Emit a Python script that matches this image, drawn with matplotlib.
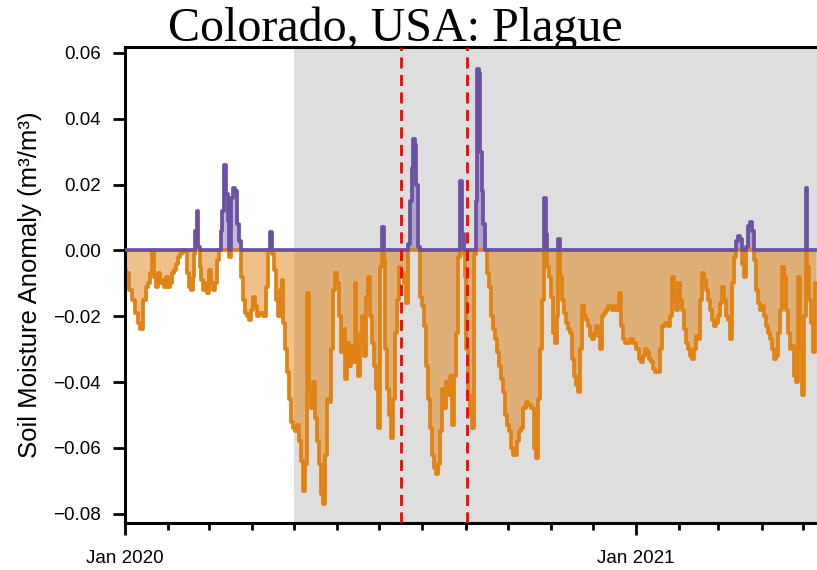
import matplotlib
matplotlib.use("Agg")
import matplotlib.pyplot as plt
import matplotlib.dates as mdates
import numpy as np
import pandas as pd

# ---------------- data ----------------
start_date = "2020-01-01"
day_offsets = [
    0, 2, 4, 6, 8, 10, 12, 14, 16, 17, 19, 20, 22, 23, 24, 26, 27, 29, 30, 32,
    33, 34, 36, 37, 39, 40, 42, 44, 45, 47, 48, 49, 50, 51, 52, 53, 54, 55, 57, 58,
    60, 61, 62, 64, 65, 67, 68, 69, 70, 72, 73, 74, 75, 77, 78, 80, 81, 82, 84, 85,
    87, 88, 90, 91, 92, 94, 95, 97, 100, 102, 103, 105, 106, 107, 109, 110, 112, 113, 114, 115,
    117, 118, 120, 121, 122, 124, 125, 127, 128, 130, 131, 133, 134, 135, 137, 138, 140, 141, 143, 144,
    145, 147, 148, 150, 151, 153, 154, 155, 157, 158, 160, 161, 163, 164, 165, 166, 168, 169, 171, 172,
    173, 175, 176, 178, 179, 181, 182, 183, 185, 186, 187, 188, 190, 191, 193, 194, 196, 197, 198, 201,
    202, 203, 205, 206, 207, 208, 209, 211, 212, 214, 215, 216, 218, 219, 221, 222, 224, 225, 226, 228,
    229, 231, 232, 234, 235, 236, 238, 239, 241, 242, 243, 244, 245, 246, 248, 249, 251, 252, 253, 254,
    255, 256, 257, 259, 260, 261, 263, 264, 266, 267, 269, 270, 272, 273, 274, 276, 277, 279, 280, 282,
    283, 284, 286, 288, 290, 292, 294, 295, 297, 298, 299, 301, 302, 303, 304, 306, 307, 309, 310, 311,
    312, 314, 315, 317, 318, 320, 321, 322, 324, 325, 327, 328, 330, 331, 332, 334, 335, 337, 338, 340,
    341, 342, 344, 345, 347, 350, 352, 353, 355, 356, 357, 359, 361, 363, 365, 367, 369, 370, 372, 373,
    375, 376, 378, 379, 380, 383, 384, 385, 388, 390, 391, 393, 394, 395, 397, 398, 400, 401, 403, 404,
    405, 407, 408, 410, 411, 413, 414, 416, 417, 418, 420, 421, 423, 424, 426, 427, 428, 430, 431, 433,
    434, 436, 437, 438, 440, 441, 443, 444, 446, 447, 448, 450, 451, 453, 454, 456, 457, 458, 460, 461,
    463, 464, 466, 467, 469, 470, 471, 473, 474, 476, 477, 479, 480, 481, 483, 484, 486, 487, 488, 489,
    491, 492, 494, 495,
]
anomaly = [
    -0.0060, -0.0070, -0.0120, -0.0150, -0.0190, -0.0220, -0.0240, -0.0150, -0.0110, -0.0100,
    -0.0070, -0.0005, -0.0080, -0.0110, -0.0070, -0.0100, -0.0090, -0.0110, -0.0080, -0.0110,
    -0.0100, -0.0070, -0.0060, -0.0040, -0.0020, -0.0010, 0.0002, -0.0005, -0.0070, -0.0110,
    -0.0120, -0.0080, -0.0010, 0.0060, 0.0120, 0.0010, -0.0050, -0.0090, -0.0120, -0.0100,
    -0.0130, -0.0060, -0.0100, -0.0120, -0.0100, -0.0030, 0.0000, 0.0060, 0.0120, 0.0260,
    0.0170, 0.0090, -0.0020, 0.0160, 0.0190, 0.0180, 0.0080, 0.0030, -0.0080, -0.0150,
    -0.0190, -0.0200, -0.0210, -0.0180, -0.0140, -0.0170, -0.0200, -0.0190, -0.0200, -0.0110,
    0.0000, 0.0055, -0.0010, -0.0060, -0.0150, -0.0200, -0.0120, -0.0090, -0.0220, -0.0300,
    -0.0370, -0.0450, -0.0520, -0.0540, -0.0550, -0.0530, -0.0580, -0.0640, -0.0730, -0.0650,
    -0.0130, -0.0420, -0.0480, -0.0400, -0.0510, -0.0580, -0.0650, -0.0740, -0.0770, -0.0620,
    -0.0450, -0.0460, -0.0300, -0.0120, -0.0070, -0.0100, -0.0200, -0.0310, -0.0240, -0.0390,
    -0.0280, -0.0350, -0.0290, -0.0340, -0.0100, -0.0250, -0.0380, -0.0280, -0.0200, -0.0320,
    -0.0140, -0.0080, -0.0200, -0.0280, -0.0350, -0.0420, -0.0540, -0.0050, 0.0070, -0.0030,
    -0.0300, -0.0420, -0.0500, -0.0570, -0.0450, -0.0250, -0.0150, -0.0050, -0.0070, -0.0100,
    -0.0160, 0.0020, 0.0150, 0.0250, 0.0340, 0.0320, 0.0200, 0.0010, -0.0140, -0.0170,
    -0.0230, -0.0350, -0.0450, -0.0540, -0.0620, -0.0660, -0.0680, -0.0650, -0.0550, -0.0420,
    -0.0480, -0.0400, -0.0440, -0.0380, -0.0530, -0.0380, -0.0250, -0.0020, 0.0210, 0.0050,
    -0.0010, -0.0080, -0.0300, -0.0440, -0.0500, -0.0540, -0.0010, 0.0150, 0.0550, 0.0540,
    0.0300, 0.0180, 0.0080, 0.0000, -0.0070, -0.0110, -0.0200, -0.0240, -0.0270, -0.0310,
    -0.0350, -0.0390, -0.0430, -0.0500, -0.0530, -0.0550, -0.0600, -0.0620, -0.0620, -0.0580,
    -0.0550, -0.0540, -0.0480, -0.0460, -0.0470, -0.0480, -0.0600, -0.0630, -0.0450, -0.0300,
    -0.0150, 0.0160, 0.0050, -0.0050, -0.0080, -0.0140, -0.0250, -0.0280, -0.0200, 0.0035,
    -0.0080, -0.0150, -0.0190, -0.0220, -0.0240, -0.0250, -0.0330, -0.0380, -0.0410, -0.0430,
    -0.0300, -0.0170, -0.0200, -0.0210, -0.0230, -0.0260, -0.0270, -0.0250, -0.0230, -0.0260,
    -0.0300, -0.0200, -0.0190, -0.0180, -0.0170, -0.0180, -0.0170, -0.0180, -0.0130, -0.0230,
    -0.0270, -0.0280, -0.0280, -0.0270, -0.0280, -0.0300, -0.0330, -0.0340, -0.0320, -0.0300,
    -0.0310, -0.0330, -0.0340, -0.0360, -0.0370, -0.0370, -0.0300, -0.0230, -0.0220, -0.0230,
    -0.0200, -0.0080, -0.0150, -0.0180, -0.0100, -0.0150, -0.0180, -0.0240, -0.0280, -0.0300,
    -0.0320, -0.0330, -0.0300, -0.0260, -0.0270, -0.0150, -0.0070, -0.0090, -0.0120, -0.0150,
    -0.0180, -0.0210, -0.0230, -0.0220, -0.0200, -0.0160, -0.0110, -0.0150, -0.0200, -0.0210,
    -0.0270, -0.0100, -0.0020, 0.0030, 0.0045, 0.0035, -0.0040, -0.0080, 0.0010, 0.0075,
    0.0085, 0.0060, -0.0030, -0.0120, -0.0160, -0.0180, -0.0170, -0.0200, -0.0230, -0.0250,
    -0.0270, -0.0300, -0.0330, -0.0320, -0.0250, -0.0180, -0.0050, -0.0080, -0.0180, -0.0250,
    -0.0300, -0.0290, -0.0380, -0.0400, -0.0080, -0.0300, -0.0440, -0.0200, 0.0190, -0.0050,
    -0.0150, -0.0220, -0.0310, -0.0100,
]
shade_start = "2020-05-01"
event_dates = ["2020-07-17", "2020-09-02"]
x_end_days = 495.7
y_ticks = [0.06, 0.04, 0.02, 0.00, -0.02, -0.04, -0.06, -0.08]
title = "Colorado, USA: Plague"
ylabel = "Soil Moisture Anomaly (m\u00b3/m\u00b3)"

# ---------------- figure ----------------
W, H = 817, 570
fig = plt.figure(figsize=(W / 100, H / 100), dpi=100)
ax = fig.add_axes([125 / W, 1 - 523 / H, (817 - 125) / W, (523 - 47) / H])

t0 = pd.Timestamp(start_date)
dates = t0 + pd.to_timedelta(day_offsets, unit="D")
vals = np.array(anomaly)
pos = np.clip(vals, 0, None)
neg = np.clip(vals, None, 0)

purple = "#6a51a3"
orange = "#e08214"

ax.axvspan(pd.Timestamp(shade_start), t0 + pd.Timedelta(days=x_end_days + 5),
           color="#dedede", zorder=0, lw=0)
ax.fill_between(dates, neg, 0, step="mid", color=orange, alpha=0.5, lw=0, zorder=1)
ax.fill_between(dates, pos, 0, step="mid", color=purple, alpha=0.4, lw=0, zorder=1)
ax.plot(dates, neg, drawstyle="steps-mid", color=orange, lw=2.7, zorder=2,
        solid_joinstyle="round", solid_capstyle="round")
ax.plot(dates, pos, drawstyle="steps-mid", color=purple, lw=2.7, zorder=3,
        solid_joinstyle="round", solid_capstyle="round")
for d in event_dates:
    ax.axvline(pd.Timestamp(d), color="#ff0000", lw=2.0, ls=(0, (4, 2.3)), zorder=4)

ax.set_xlim(t0, t0 + pd.Timedelta(days=x_end_days))
ax.set_ylim(-0.0828, 0.0618)
ax.set_yticks(y_ticks)
ax.yaxis.set_major_formatter(matplotlib.ticker.FuncFormatter(
    lambda v, p: f"{v:.2f}".replace("-", "\u2212")))

ax.xaxis.set_major_locator(mdates.YearLocator())
ax.xaxis.set_major_formatter(mdates.DateFormatter("%b %Y"))
ax.xaxis.set_minor_locator(mdates.MonthLocator())

font = "Liberation Sans"
ax.tick_params(axis="y", which="major", length=8.6, width=2, labelsize=13.5, pad=9)
ax.tick_params(axis="x", which="major", length=8.6, width=2, labelsize=13.5, pad=11)
ax.tick_params(axis="x", which="minor", length=5, width=2)
for lab in ax.get_xticklabels() + ax.get_yticklabels():
    lab.set_fontfamily(font)

for s in ["left", "bottom", "top"]:
    ax.spines[s].set_linewidth(2.2)
ax.spines["right"].set_visible(False)

ax.set_ylabel(ylabel, fontsize=18.5, family=font, labelpad=8)

fig.text(395.5 / W, 1 - 41 / H, title, fontsize=34.6, family="Liberation Serif",
         ha="center", va="baseline", zorder=-1)

fig.savefig("out.png", dpi=100)
